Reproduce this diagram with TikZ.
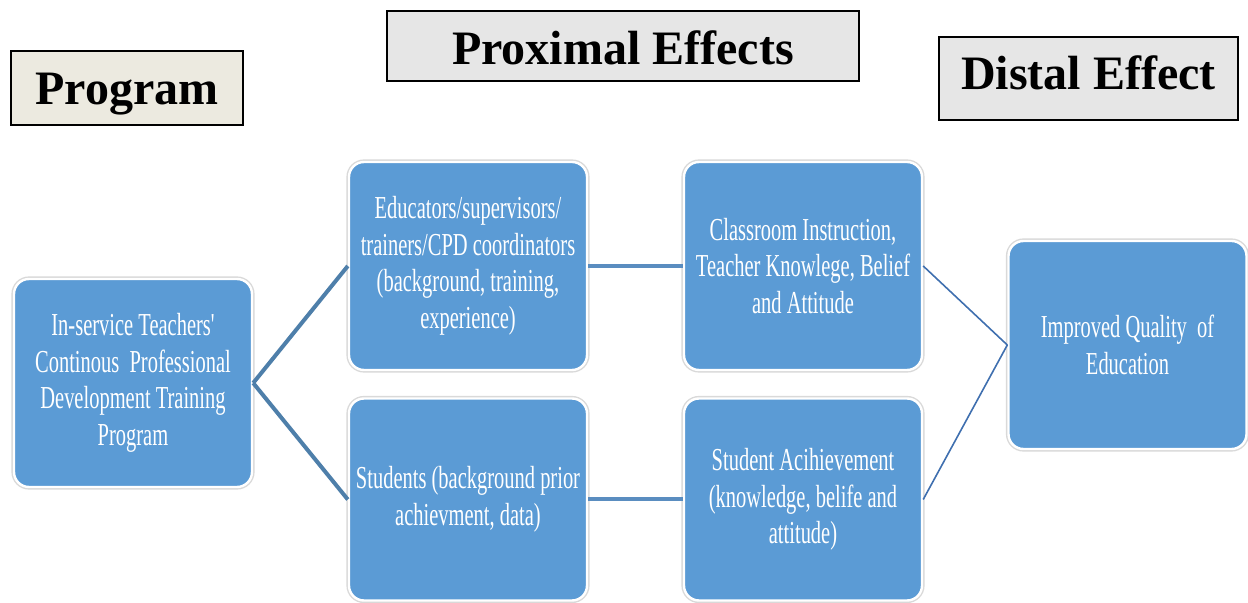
\documentclass[tikz,border=0pt]{standalone}
\usepackage{fontspec}
\setmainfont{Liberation Serif}
\newfontfamily\narrowfont[FakeStretch=0.64]{Liberation Serif}

\definecolor{BlockBlue}{RGB}{91,155,213}
\definecolor{LinkBlue}{RGB}{78,127,170}
\definecolor{FlatBlue}{RGB}{90,141,192}
\definecolor{ThinBlue}{RGB}{63,111,175}
\definecolor{ProgramFill}{RGB}{236,234,224}
\definecolor{HeadFill}{RGB}{230,230,230}

\tikzset{
	blockbox/.style={rounded corners=7.5pt, fill=BlockBlue, draw=white, line width=1.2pt,
		preaction={draw=black!15, line width=2.6pt},
		minimum width=119pt, inner sep=0pt, align=center, text=white,
		font=\narrowfont\fontsize{16}{18.3}\selectfont},
	headbox/.style={draw=black, line width=0.8pt, inner sep=0pt, text height=20pt,
		font=\bfseries\fontsize{24}{28}\selectfont},
	thicklink/.style={draw=LinkBlue, line width=2pt},
	flatlink/.style={draw=FlatBlue, line width=2pt},
	thinlink/.style={draw=ThinBlue, line width=0.8pt}
}

\begin{document}
\begin{tikzpicture}[x=0.5pt, y=-0.5pt]

	\useasboundingbox (0,0) rectangle (1248,603);

	% Headings

	\node [headbox, fill=ProgramFill, minimum width=116pt, minimum height=37pt, text depth=3pt] (program) at (127,88) {Program};
	\node [headbox, fill=HeadFill, minimum width=236pt, minimum height=35pt, text depth=1pt] (proximal) at (623,46) {Proximal Effects};
	\node [headbox, fill=HeadFill, minimum width=149.5pt, minimum height=41.5pt, text depth=8.5pt] (distal) at (1088.5,78.5) {Distal Effect};

	% Blocks

	\node [blockbox, minimum height=104pt] (cpd) at (133,383) {In-service Teachers'\\Continous\ \ Professional\\Development Training\\Program};
	\node [blockbox, minimum height=104pt] (educators) at (468,266) {Educators/supervisors/\\trainers/CPD coordinators\\(background, training,\\experience)};
	\node [blockbox, minimum height=101pt] (students) at (468,499.5) {Students (background prior\\achievment, data)};
	\node [blockbox, minimum height=104pt] (classroom) at (803,266) {Classroom Instruction,\\Teacher Knowlege, Belief\\and Attitude};
	\node [blockbox, minimum height=101pt] (achievement) at (803,499.5) {Student Acihievement\\(knowledge,\ belife\ and\\attitude)};
	\node [blockbox, minimum height=104pt] (quality) at (1127.5,345) {Improved Quality\ \ of\\Education};

	% Links

	\draw [thicklink] (cpd.east) -- (educators.west);
	\draw [thicklink] (cpd.east) -- (students.west);
	\draw [flatlink] (educators.east) -- (classroom.west);
	\draw [flatlink] (students.east) -- (achievement.west);
	\draw [thinlink] (classroom.east) -- (quality.west);
	\draw [thinlink] (achievement.east) -- (quality.west);

\end{tikzpicture}
\end{document}
